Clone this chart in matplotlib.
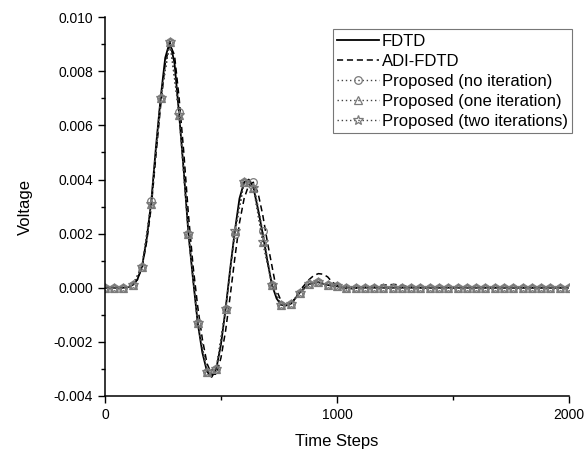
import numpy as np
import matplotlib
matplotlib.use("Agg")
import matplotlib.pyplot as plt
from matplotlib.ticker import MultipleLocator, FormatStrFormatter

plt.rcParams['font.family'] = ['Liberation Sans', 'DejaVu Sans']
plt.rcParams['axes.unicode_minus'] = False

# FDTD reference
fdtd_t = [0, 20, 40, 60, 80, 100, 120, 140, 160, 180, 200, 220, 240, 260, 280,
          300, 320, 340, 360, 380, 400, 420, 440, 460, 480, 500, 520, 540, 560,
          580, 600, 620, 640, 660, 680, 700, 720, 740, 760, 780, 800, 820, 840,
          860, 880, 900, 920, 940, 960, 980, 1000, 1050, 1100, 2000]
fdtd_v = [0, 0, 0, 0, 0, 0.00002, 0.0001, 0.0003, 0.00078, 0.0018, 0.0032,
          0.0052, 0.0070, 0.0085, 0.0091, 0.0083, 0.0064, 0.0043, 0.0020,
          0.0003, -0.0013, -0.0024, -0.0031, -0.0033, -0.0030, -0.0021,
          -0.0008, 0.0007, 0.0021, 0.0033, 0.0039, 0.0040, 0.0037, 0.0029,
          0.0020, 0.0010, 0.0001, -0.0004, -0.00064, -0.00066, -0.0006,
          -0.0004, -0.00018, 0.0, 0.00013, 0.00019, 0.0002, 0.00015, 0.0001,
          0.00007, 0.00005, 0.00002, 0.0, 0.0]

# ADI-FDTD
adi_t = [0, 20, 40, 60, 80, 100, 120, 140, 160, 180, 200, 220, 240, 260, 280,
         300, 320, 340, 360, 380, 400, 420, 440, 460, 480, 500, 520, 540, 560,
         580, 600, 620, 640, 660, 680, 700, 720, 740, 760, 780, 800, 820, 840,
         860, 880, 900, 920, 940, 960, 980, 1000, 1020, 1050, 1100, 1150, 1200,
         1250, 1300, 1350, 2000]
adi_v = [0, 0, 0, 0, 0, 0.00002, 0.0001, 0.0003, 0.00075, 0.0017, 0.0030,
         0.0049, 0.0067, 0.0083, 0.0090, 0.0086, 0.0070, 0.0050, 0.0027,
         0.0008, -0.0007, -0.0019, -0.0028, -0.0032, -0.0032, -0.0026,
         -0.0016, -0.0003, 0.0011, 0.0024, 0.0033, 0.0038, 0.0039, 0.0035,
         0.0027, 0.0017, 0.0008, -0.0001, -0.0005, -0.00065, -0.0006, -0.0004,
         -0.0001, 0.0001, 0.0003, 0.00045, 0.00052, 0.0005, 0.0004, 0.0002,
         0.0001, 0.0, -0.00005, 0.0, 0.00005, 0.0001, 0.00012, 0.00005, 0.0, 0.0]

# proposed schemes, sampled every 40 steps
prop_t = list(range(0, 2001, 40))
prop_no_iter = [0, 0, 0, 0.0001, 0.00078, 0.0032, 0.0070, 0.0091, 0.0065,
                0.0020, -0.0013, -0.0031, -0.0030, -0.0008, 0.0020, 0.0039,
                0.0039, 0.0021, 0.0001, -0.00064, -0.0006, -0.00018, 0.00013,
                0.0002, 0.0001, 0.00005] + [0.0] * 25
prop_one_iter = [0, 0, 0, 0.0001, 0.00078, 0.0031, 0.0070, 0.0091, 0.0064,
                 0.0020, -0.0013, -0.0031, -0.0030, -0.0008, 0.0021, 0.0039,
                 0.0037, 0.0017, 0.0001, -0.00064, -0.0006, -0.00018, 0.00013,
                 0.0002, 0.0001, 0.00005] + [0.0] * 25
prop_two_iter = [0, 0, 0, 0.0001, 0.00078, 0.0031, 0.0070, 0.0091, 0.0064,
                 0.0020, -0.0013, -0.0031, -0.0030, -0.0008, 0.0021, 0.0039,
                 0.0037, 0.0017, 0.0001, -0.00064, -0.0006, -0.00018, 0.00013,
                 0.0002, 0.0001, 0.00005] + [0.0] * 25

fig = plt.figure(figsize=(5.86, 4.54), dpi=100)
ax = fig.add_axes([0.179, 0.128, 0.792, 0.834])

gray = '#7a7a7a'
ax.plot(fdtd_t, fdtd_v, color='black', lw=1.3, ls='-', label='FDTD')
ax.plot(adi_t, adi_v, color='black', lw=1.1, ls=(0, (4, 2.5)), label='ADI-FDTD')
mk = dict(color='#444444', lw=1.0, ls=(0, (1, 2)), markersize=5.5,
          markerfacecolor='none', markeredgecolor=gray, markeredgewidth=0.9)
ax.plot(prop_t, prop_no_iter, marker='o', label='Proposed (no iteration)', **mk)
ax.plot(prop_t, prop_one_iter, marker='^', label='Proposed (one iteration)', **mk)
ax.plot(prop_t, prop_two_iter, marker='*', label='Proposed (two iterations)',
        **dict(mk, markersize=7))

ax.set_xlim(0, 2000)
ax.set_ylim(-0.004, 0.010)
ax.xaxis.set_major_locator(MultipleLocator(1000))
ax.xaxis.set_minor_locator(MultipleLocator(500))
ax.yaxis.set_major_locator(MultipleLocator(0.002))
ax.yaxis.set_minor_locator(MultipleLocator(0.001))
ax.yaxis.set_major_formatter(FormatStrFormatter('%.3f'))
ax.tick_params(which='major', direction='out', length=5, width=1, labelsize=10,
               colors='black')
ax.tick_params(which='minor', direction='out', length=3, width=1)
ax.spines['top'].set_visible(False)
ax.spines['right'].set_visible(False)
for s in ('left', 'bottom'):
    ax.spines[s].set_linewidth(1.1)

ax.set_xlabel('Time Steps', fontsize=12, labelpad=9)
ax.set_ylabel('Voltage', fontsize=12, labelpad=15)

leg = ax.legend(loc='upper right', bbox_to_anchor=(1.006, 0.968), fontsize=12,
                frameon=True, fancybox=False, edgecolor='#555555',
                handlelength=2.5, handletextpad=0.15, labelspacing=0.3,
                borderpad=0.25, borderaxespad=0.0)
leg.get_frame().set_linewidth(0.8)

fig.savefig('out.png', dpi=100)
